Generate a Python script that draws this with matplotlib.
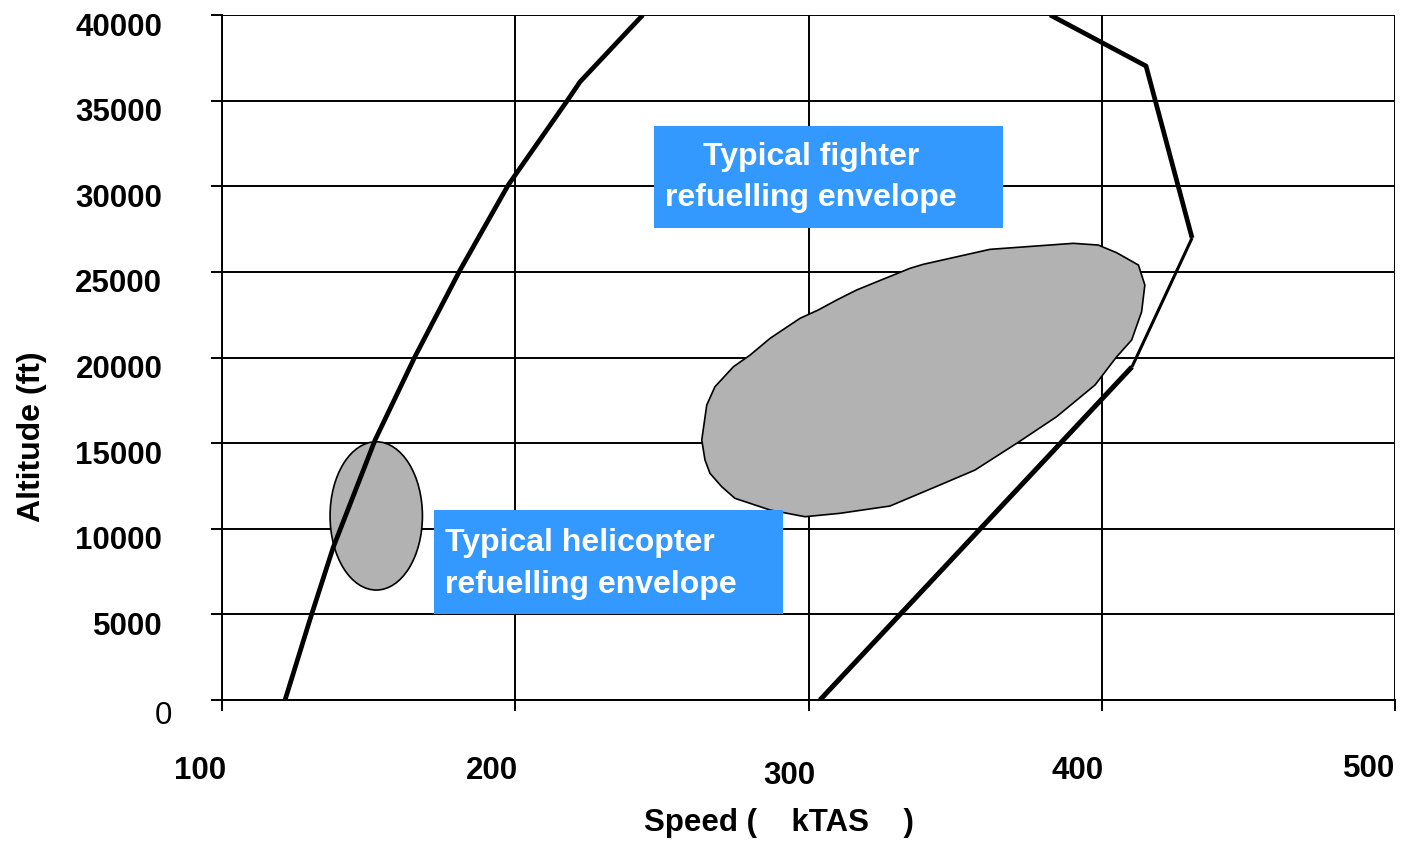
import numpy as np
import matplotlib
matplotlib.use("Agg")
import matplotlib.pyplot as plt
from matplotlib.patches import Polygon, Ellipse, Rectangle
from matplotlib.transforms import ScaledTranslation

plt.rcParams['font.family'] = ['Liberation Sans', 'DejaVu Sans']

# axis ticks
x_ticks = [100, 200, 300, 400, 500]
y_ticks = [0, 5000, 10000, 15000, 20000, 25000, 30000, 35000, 40000]

# low speed boundary (kTAS, ft)
low_speed = [121.5, 130.0, 137.9, 152.2, 165.8, 181.2, 197.6, 217.5, 222.1, 243.5]
low_alt = [0, 4700, 8900, 15180, 20050, 25110, 30070, 34940, 36100, 40000]

# high speed boundary, split into pieces of different thickness
high_speed_a = [303.9, 410.3]
high_alt_a = [0, 19450]
high_speed_b = [410.3, 430.8]
high_alt_b = [19450, 26980]
high_speed_c = [430.8, 415.1, 382.4]
high_alt_c = [26980, 37020, 40000]

# fighter refuelling envelope outline
fighter_speed = [265.3, 268.1, 274.4, 280.1, 286.9, 297.1, 303.3, 309.6, 316.4, 323.3,
                 334.6, 339.1, 361.9, 390.3, 398.8, 405.1, 412.5, 414.7, 413.6, 410.2,
                 405.1, 397.7, 384.6, 371.0, 356.8, 344.8, 327.8, 310.7, 298.8, 286.9,
                 274.9, 270.4, 266.4, 264.7, 263.6]
fighter_alt = [17225, 18294, 19462, 20145, 21120, 22288, 22772, 23356, 23940, 24424,
               25207, 25440, 26316, 26667, 26567, 26118, 25400, 24232, 22673, 21020,
               20045, 18393, 16542, 14989, 13430, 12554, 11328, 10901, 10703, 11094,
               11777, 12455, 13237, 14014, 15181]

# helicopter refuelling envelope (ellipse)
heli_center = (152.6, 10750)
heli_width = 31.5
heli_height = 8660

fig = plt.figure(figsize=(14.01, 8.41), dpi=100)
ax = fig.add_axes([222 / 1401, 141 / 841, 1173 / 1401, 685 / 841])
ax.set_xlim(100, 500)
ax.set_ylim(0, 40000)

ax.set_xticks(x_ticks)
ax.set_yticks(y_ticks)
ax.grid(True, color='black', linewidth=1.4, zorder=0)
ax.set_axisbelow(True)
for side in ['top', 'right']:
    ax.spines[side].set_visible(False)
for side in ['left', 'bottom']:
    ax.spines[side].set_linewidth(1.4)
ax.tick_params(axis='both', direction='out', length=8, width=1.4)
ax.tick_params(axis='y', pad=35, labelsize=22.5)
ax.tick_params(axis='x', pad=32, labelsize=22.5)

ax.set_yticklabels([str(v) for v in y_ticks], fontweight='bold')
ax.set_xticklabels([str(v) for v in x_ticks], fontweight='bold')

# shift labels like the original drawing
for i, lab in enumerate(ax.get_yticklabels()):
    dx, dy = 0, -9
    if i == 0:
        lab.set_fontweight('normal')
        dx, dy = 10, -13
    lab.set_transform(lab.get_transform() + ScaledTranslation(dx / 100, dy / 100, fig.dpi_scale_trans))
x_shift = [(-22, 0), (-23, 0), (-19, -5), (-24, 0), (-26, 2)]
for lab, (dx, dy) in zip(ax.get_xticklabels(), x_shift):
    lab.set_transform(lab.get_transform() + ScaledTranslation(dx / 100, dy / 100, fig.dpi_scale_trans))

# envelopes
ax.add_patch(Polygon(np.column_stack([fighter_speed, fighter_alt]), closed=True,
                     facecolor='#b2b2b2', edgecolor='black', linewidth=1.2, zorder=2))
ax.add_patch(Ellipse(heli_center, heli_width, heli_height,
                     facecolor='#b2b2b2', edgecolor='black', linewidth=1.2, zorder=2))

# boundaries
ax.plot(low_speed, low_alt, color='black', linewidth=3.4, solid_capstyle='butt', zorder=3)
ax.plot(high_speed_a, high_alt_a, color='black', linewidth=3.6, solid_capstyle='butt', zorder=3)
ax.plot(high_speed_b, high_alt_b, color='black', linewidth=2.2, solid_capstyle='butt', zorder=3)
ax.plot(high_speed_c, high_alt_c, color='black', linewidth=3.4, solid_capstyle='butt', zorder=3)

# label boxes
box_color = '#3399ff'
ax.add_patch(Rectangle((247.3, 27560), 119.0, 5960, facecolor=box_color,
                       edgecolor='none', zorder=4))
ax.text(300.9, 30500, 'Typical fighter\nrefuelling envelope', color='white',
        fontsize=23, fontweight='bold', ha='center', va='center',
        linespacing=1.5, zorder=5)
ax.add_patch(Rectangle((172.3, 5020), 119.0, 6075, facecolor=box_color,
                       edgecolor='none', zorder=4))
ax.text(176.0, 7950, 'Typical helicopter\nrefuelling envelope', color='white',
        fontsize=23, fontweight='bold', ha='left', va='center',
        linespacing=1.5, zorder=5)

# axis titles
fig.text(32 / 1401, 1 - 437 / 841, 'Altitude (ft)', rotation=90, fontsize=23,
         fontweight='bold', ha='center', va='center')
fig.text(779 / 1401, 1 - 823 / 841, 'Speed (    kTAS    )', fontsize=22.5,
         fontweight='bold', ha='center', va='center')

fig.savefig('out.png', dpi=100)
